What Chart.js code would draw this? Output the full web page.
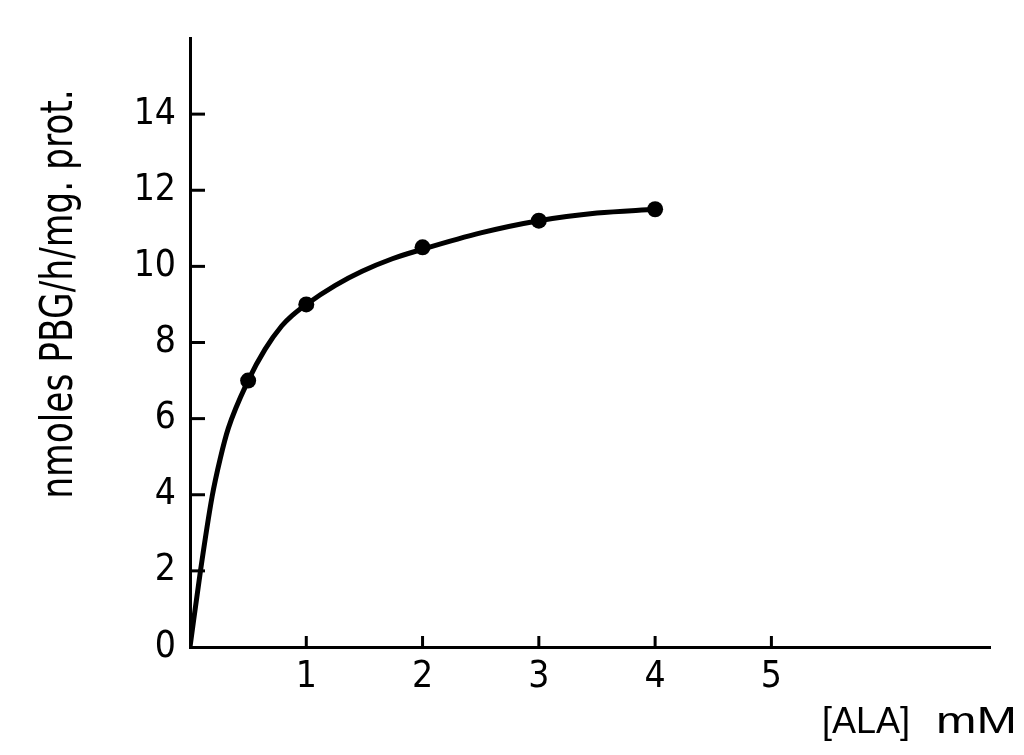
<!DOCTYPE html>
<html><head><meta charset="utf-8">
<script src="https://cdn.jsdelivr.net/npm/chart.js@4.4.0/dist/chart.umd.min.js"></script>
<style>html,body{margin:0;padding:0;background:#fff;overflow:hidden}</style>
</head><body>
<canvas id="c" width="1024" height="755"></canvas>
<script>
// ---- data ----
const xTickValues = [1, 2, 3, 4, 5];
const yTickValues = [0, 2, 4, 6, 8, 10, 12, 14];
const alaConc = [0.5, 1, 2, 3, 4];            // [ALA] mM (measured points)
const pbgRate = [7.0, 9.0, 10.5, 11.2, 11.5]; // nmoles PBG/h/mg prot.
const curveX = [0, 0.09, 0.19, 0.26, 0.33, 0.5, 0.645, 0.79, 0.875, 1, 1.25, 1.48, 1.74, 2, 2.5, 3, 3.5, 4];
const curveY = [0, 2.0, 3.95, 4.95, 5.75, 7.0, 7.82, 8.44, 8.7, 9.0, 9.5, 9.87, 10.2, 10.45, 10.88, 11.2, 11.4, 11.5];
const yTitle = 'nmoles PBG/h/mg. prot.';
const xTitleA = '[ALA]';
const xTitleB = 'mM';

const NARROW = "'Liberation Sans Narrow', 'DejaVu Sans Condensed', 'Liberation Sans', sans-serif";
const WIDE = "'Liberation Sans', 'DejaVu Sans', sans-serif";

const inkPlugin = {
  id: 'ink',
  afterDraw(chart) {
    const ctx = chart.ctx, xs = chart.scales.x, ys = chart.scales.y, a = chart.chartArea;
    ctx.save();
    ctx.strokeStyle = '#000';
    ctx.fillStyle = '#000';
    ctx.lineWidth = 3;
    ys.ticks.forEach(t => {
      if (t.value === 0) return;
      const py = ys.getPixelForValue(t.value);
      ctx.beginPath(); ctx.moveTo(a.left, py); ctx.lineTo(a.left + 15, py); ctx.stroke();
    });
    xs.ticks.forEach(t => {
      const px = xs.getPixelForValue(t.value);
      ctx.beginPath(); ctx.moveTo(px, a.bottom); ctx.lineTo(px, a.bottom - 11); ctx.stroke();
    });
    // y title (rotated)
    ctx.save();
    ctx.translate(72, 294);
    ctx.rotate(-Math.PI / 2);
    ctx.scale(0.87, 1);
    ctx.font = '44px ' + NARROW;
    ctx.textAlign = 'center';
    ctx.textBaseline = 'alphabetic';
    ctx.fillText(yTitle, 0, 0);
    ctx.restore();
    // x title
    ctx.font = '36px ' + WIDE;
    ctx.textBaseline = 'alphabetic';
    ctx.textAlign = 'left';
    ctx.fillText(xTitleA, a.left + 632, a.bottom + 86);
    ctx.save();
    ctx.translate(a.right + 27, a.bottom + 86);
    ctx.scale(1.35, 1);
    ctx.textAlign = 'right';
    ctx.fillText(xTitleB, 0, 0);
    ctx.restore();
    ctx.restore();
  }
};

new Chart(document.getElementById('c'), {
  data: {
    datasets: [
      {
        type: 'scatter',
        data: alaConc.map((x, i) => ({ x, y: pbgRate[i] })),
        pointRadius: 8,
        pointBackgroundColor: '#000',
        pointBorderColor: '#000',
        pointBorderWidth: 0,
        order: 0
      },
      {
        type: 'line',
        data: curveX.map((x, i) => ({ x, y: curveY[i] })),
        borderColor: '#000',
        borderWidth: 5,
        pointRadius: 0,
        fill: false,
        cubicInterpolationMode: 'monotone',
        order: 1
      }
    ]
  },
  options: {
    responsive: false,
    animation: false,
    devicePixelRatio: 1,
    layout: { padding: { top: 38, right: 34, bottom: 0, left: 0 } },
    plugins: { legend: { display: false }, tooltip: { enabled: false } },
    scales: {
      x: {
        type: 'linear', min: 0, max: 6.88,
        afterBuildTicks: s => { s.ticks = xTickValues.map(v => ({ value: v })); },
        afterFit: s => { s.height = 108; },
        grid: { display: false, drawTicks: false },
        border: { display: true, color: '#000', width: 3 },
        ticks: { color: '#000', padding: 8, autoSkip: false, maxRotation: 0,
                 font: { family: NARROW, size: 37 } }
      },
      y: {
        type: 'linear', min: 0, max: 16,
        afterBuildTicks: s => { s.ticks = yTickValues.map(v => ({ value: v })); },
        afterFit: s => { s.width = 190; },
        grid: { display: false, drawTicks: false },
        border: { display: true, color: '#000', width: 3 },
        ticks: { color: '#000', padding: 14, font: { family: NARROW, size: 37 } }
      }
    }
  },
  plugins: [inkPlugin]
});
</script>
</body></html>
